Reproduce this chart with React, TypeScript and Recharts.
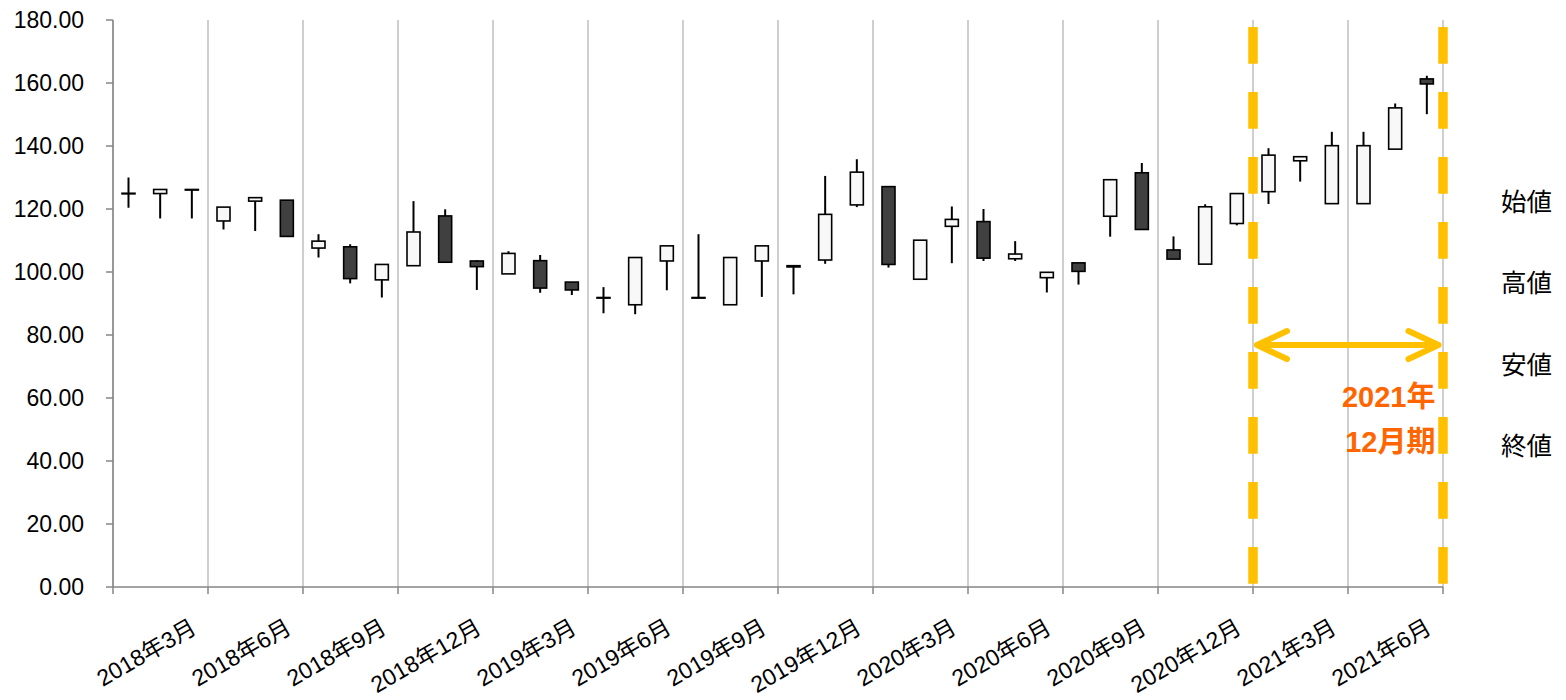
import React from "react";
import {
  ComposedChart,
  Bar,
  XAxis,
  YAxis,
  CartesianGrid,
  ReferenceLine,
  Legend,
} from "recharts";

// 2018年1月 … 2021年6月 (monthly candles)
const months = [
  "2018年1月", "2018年2月", "2018年3月", "2018年4月", "2018年5月", "2018年6月",
  "2018年7月", "2018年8月", "2018年9月", "2018年10月", "2018年11月", "2018年12月",
  "2019年1月", "2019年2月", "2019年3月", "2019年4月", "2019年5月", "2019年6月",
  "2019年7月", "2019年8月", "2019年9月", "2019年10月", "2019年11月", "2019年12月",
  "2020年1月", "2020年2月", "2020年3月", "2020年4月", "2020年5月", "2020年6月",
  "2020年7月", "2020年8月", "2020年9月", "2020年10月", "2020年11月", "2020年12月",
  "2021年1月", "2021年2月", "2021年3月", "2021年4月", "2021年5月", "2021年6月",
];

const openValues = [
  125.0, 124.9, 126.2, 116.2, 122.5, 122.8, 107.6, 108.0, 97.5, 102.0, 117.8, 103.5,
  99.4, 103.6, 96.8, 91.9, 89.6, 103.5, 91.9, 89.6, 103.5, 102.0, 103.8, 121.3,
  127.1, 97.7, 114.5, 116.0, 104.2, 98.2, 102.9, 117.7, 131.5, 107.0, 102.5, 115.4,
  125.5, 135.3, 121.7, 121.7, 139.0, 161.3,
];
const highValues = [
  130.0, 126.2, 126.2, 120.6, 123.6, 122.8, 112.0, 108.8, 102.4, 122.5, 119.9, 103.7,
  106.6, 105.4, 96.8, 95.2, 104.6, 108.3, 112.0, 104.6, 108.3, 102.0, 130.5, 135.8,
  127.1, 110.1, 120.8, 120.0, 109.8, 99.9, 102.9, 129.3, 134.6, 111.3, 121.5, 124.9,
  139.3, 136.6, 144.5, 144.5, 153.5, 162.3,
];
const lowValues = [
  120.4, 117.0, 117.0, 113.5, 113.0, 111.3, 104.6, 96.4, 91.9, 102.0, 103.1, 94.3,
  99.4, 93.4, 92.7, 86.9, 86.6, 94.2, 91.9, 89.6, 92.1, 92.9, 102.6, 120.6,
  101.4, 97.7, 102.8, 103.5, 103.5, 93.5, 96.0, 111.2, 113.5, 104.1, 102.5, 114.8,
  121.6, 128.7, 121.7, 121.7, 139.0, 150.1,
];
const closeValues = [
  125.0, 126.2, 126.2, 120.6, 123.6, 111.3, 109.8, 97.9, 102.4, 112.7, 103.1, 101.7,
  105.9, 94.9, 94.3, 91.9, 104.6, 108.3, 91.9, 104.6, 108.3, 101.6, 118.3, 131.7,
  102.4, 110.1, 116.7, 104.4, 105.7, 99.9, 100.2, 129.3, 113.5, 104.1, 120.7, 124.9,
  137.1, 136.6, 140.1, 140.1, 152.1, 159.7,
];

const seriesNames = ["始値", "高値", "安値", "終値"];

const xTicks = [0, 3, 6, 9, 12, 15, 18, 21, 24, 27, 30, 33, 36, 39, 42];
const tickLabels = [
  "2018年3月", "2018年6月", "2018年9月", "2018年12月",
  "2019年3月", "2019年6月", "2019年9月", "2019年12月",
  "2020年3月", "2020年6月", "2020年9月", "2020年12月",
  "2021年3月", "2021年6月",
];
const yTicks = [0, 20, 40, 60, 80, 100, 120, 140, 160, 180];

const periodStart = 36;
const periodEnd = 42;
const arrowLevel = 76.8;
const periodLabel = ["2021年", "12月期"];

const data = months.map((m, i) => ({
  month: m,
  x: i + 0.5,
  open: openValues[i],
  high: highValues[i],
  low: lowValues[i],
  close: closeValues[i],
  range: [lowValues[i], highValues[i]],
}));

const GRID = "#bfbfbf";
const AXIS = "#868686";
const YELLOW = "#ffc000";
const ORANGE = "#ff6600";

function Candle(props: any) {
  const { x, y, width, height, payload } = props;
  if (!payload) return null;
  const top = Math.min(y, y + height);
  const h = Math.abs(height);
  const { open, close, high, low } = payload;
  const ppu = high - low > 0 ? h / (high - low) : 0;
  const py = (v: number) => top + (high - v) * ppu;
  const cx = x + width / 2;
  const up = close >= open;
  const bodyTop = py(Math.max(open, close));
  const bodyBot = py(Math.min(open, close));
  return (
    <g>
      <line x1={cx} x2={cx} y1={top} y2={top + h} stroke="#000" strokeWidth={2} />
      <rect
        x={x}
        y={bodyTop}
        width={width}
        height={Math.max(bodyBot - bodyTop, 0.6)}
        fill={up ? "#f8f8f8" : "#404040"}
        stroke="#000"
        strokeWidth={1.6}
      />
    </g>
  );
}

function MonthTick(props: any) {
  const { x, y, payload } = props;
  const idx = xTicks.indexOf(payload.value);
  const label = idx > 0 ? tickLabels[idx - 1] : "";
  const ax = x - 10;
  const ay = y + 36;
  return (
    <text
      x={ax}
      y={ay}
      textAnchor="end"
      fontSize={23}
      fill="#000"
      transform={`rotate(-30, ${ax}, ${ay})`}
    >
      {label}
    </text>
  );
}

function DashedBoundary(props: any) {
  const { x1, y1, y2 } = props;
  return (
    <line
      x1={x1}
      x2={x1}
      y1={y1 - 3.3}
      y2={y2 + 3}
      stroke={YELLOW}
      strokeWidth={9.5}
      strokeDasharray="36.7 28.3"
    />
  );
}

function PeriodArrow(props: any) {
  const { x1, x2, y1 } = props;
  const l = x1 + 4;
  const r = x2 - 4.5;
  return (
    <g>
      <path
        d={`M${l},${y1} L${r},${y1} M${l + 30},${y1 - 14} L${l},${y1} L${l + 30},${y1 + 14} M${r - 30},${y1 - 14} L${r},${y1} L${r - 30},${y1 + 14}`}
        stroke={YELLOW}
        strokeWidth={6}
        strokeLinecap="round"
        strokeLinejoin="round"
        fill="none"
      />
      <text x={x2 - 7.5} y={y1 + 62} textAnchor="end" fontSize={29} fontWeight="bold" fill={ORANGE}>
        {periodLabel[0]}
      </text>
      <text x={x2 - 7.5} y={y1 + 107} textAnchor="end" fontSize={29} fontWeight="bold" fill={ORANGE}>
        {periodLabel[1]}
      </text>
    </g>
  );
}

function SeriesList() {
  return (
    <div>
      {seriesNames.map((n) => (
        <div
          key={n}
          style={{ height: 81.3, lineHeight: "81.3px", fontSize: 25.5, color: "#000", whiteSpace: "nowrap" }}
        >
          {n}
        </div>
      ))}
    </div>
  );
}

export default function App() {
  return (
    <div
      style={{
        position: "absolute",
        left: 0,
        top: 0,
        width: 1566,
        height: 700,
        background: "#fff",
        fontFamily: '"Liberation Sans", Arial, "Noto Sans CJK JP", sans-serif',
      }}
    >
      <ComposedChart
        width={1566}
        height={700}
        data={data}
        margin={{ top: 20, right: 123, bottom: 0, left: 0 }}
      >
        <CartesianGrid horizontal={false} stroke={GRID} strokeWidth={1.5} />
        <XAxis
          dataKey="x"
          type="number"
          domain={[0, 42]}
          ticks={xTicks}
          interval={0}
          height={113}
          stroke={AXIS}
          strokeWidth={1.5}
          tickSize={7}
          tick={<MonthTick />}
        />
        <YAxis
          type="number"
          domain={[0, 180]}
          ticks={yTicks}
          interval={0}
          width={113}
          stroke={AXIS}
          strokeWidth={1.5}
          tickSize={7}
          tickMargin={22}
          tick={{ fill: "#000", fontSize: 23 }}
          tickFormatter={(v: any) => Number(v).toFixed(2)}
        />
        <Bar
          dataKey="range"
          barSize={13}
          shape={<Candle />}
          isAnimationActive={false}
        />
        <ReferenceLine x={periodStart} shape={<DashedBoundary />} />
        <ReferenceLine x={periodEnd} shape={<DashedBoundary />} />
        <ReferenceLine
          segment={[
            { x: periodStart, y: arrowLevel },
            { x: periodEnd, y: arrowLevel },
          ]}
          shape={<PeriodArrow />}
        />
        <Legend
          layout="horizontal"
          verticalAlign="middle"
          align="center"
          wrapperStyle={{ left: 1501, top: 162, width: 65, height: 330 }}
          content={() => <SeriesList />}
        />
      </ComposedChart>
    </div>
  );
}
